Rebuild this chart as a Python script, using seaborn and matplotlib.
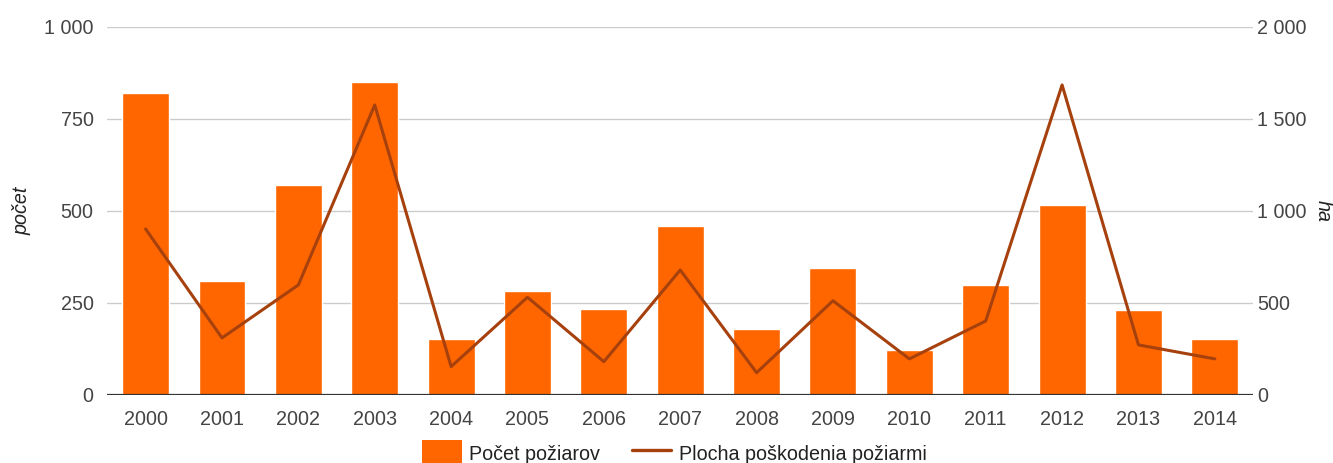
import matplotlib
matplotlib.use("Agg")
import matplotlib.pyplot as plt
import seaborn as sns
import pandas as pd
from matplotlib.ticker import FuncFormatter
from matplotlib.patches import Patch
from matplotlib.lines import Line2D

years = ["2000", "2001", "2002", "2003", "2004", "2005", "2006", "2007",
         "2008", "2009", "2010", "2011", "2012", "2013", "2014"]
fires_count = [820, 310, 571, 850, 152, 283, 233, 460, 178, 344, 122, 299, 516, 231, 152]
burned_area_ha = [902, 310, 598, 1576, 154, 531, 181, 679, 121, 512, 196, 402, 1685, 272, 196]

left_ticks = [0, 250, 500, 750, 1000]
right_ticks = [0, 500, 1000, 1500, 2000]
bar_label = "Počet požiarov"
line_label = "Plocha poškodenia požiarmi"

BAR_COLOR = "#ff6600"
LINE_COLOR = "#a6410e"
TEXT_COLOR = "#444444"
FS = 14.2

sns.set_theme(style="white")
plt.rcParams["font.family"] = ["Liberation Sans", "DejaVu Sans"]

df = pd.DataFrame({"year": years, "count": fires_count, "area": burned_area_ha})

fig = plt.figure(figsize=(13.33, 4.63), dpi=100)
ax = fig.add_axes([0.0806, 0.147, 0.8594, 0.7947])

sns.barplot(data=df, x="year", y="count", ax=ax, color=BAR_COLOR,
            saturation=1, width=0.615, zorder=2)
ax.set_ylim(0, 1000)
ax.set_yticks(left_ticks)
fmt = FuncFormatter(lambda v, p: f"{int(v):,}".replace(",", " "))
ax.yaxis.set_major_formatter(fmt)
ax.grid(axis="y", color="#cccccc", linewidth=1, zorder=0)
ax.set_axisbelow(True)

ax2 = ax.twinx()
sns.pointplot(data=df, x="year", y="area", ax=ax2, color=LINE_COLOR,
              markers="", linewidth=2.2)
ax2.set_ylim(0, 2000)
ax2.set_yticks(right_ticks)
ax2.yaxis.set_major_formatter(fmt)
ax2.grid(False)
ax.set_xlim(-0.5, len(years) - 0.5)

for a in (ax, ax2):
    for s in ("top", "left", "right", "bottom"):
        a.spines[s].set_visible(False)
    a.tick_params(axis="both", length=0, labelsize=FS, colors=TEXT_COLOR)
ax.axhline(0, color="#333333", linewidth=1.6, zorder=5)

ax.tick_params(axis="y", pad=10)
ax2.tick_params(axis="y", pad=3)
ax.tick_params(axis="x", pad=11)
ax.set_xlabel("")
ax.set_ylabel("počet", fontsize=FS, style="italic", color="#222222",
              va="center", ha="center")
ax2.set_ylabel("ha", fontsize=FS, style="italic", color="#222222",
               rotation=270, va="center", ha="center")
ax2.yaxis.set_label_coords(1.0615, 0.5)
ax.yaxis.set_label_coords(-0.0745, 0.5)

handles = [Patch(facecolor=BAR_COLOR, edgecolor="none"),
           Line2D([0], [0], color=LINE_COLOR, linewidth=2.4)]
fig.legend(handles, [bar_label, line_label], loc="lower center",
           bbox_to_anchor=(0.506, -0.046), ncol=2, frameon=False,
           fontsize=FS, handlelength=2.0, handleheight=1.7, handletextpad=0.38,
           columnspacing=1.6, labelcolor="#222222")

fig.savefig("out.png", dpi=100)
